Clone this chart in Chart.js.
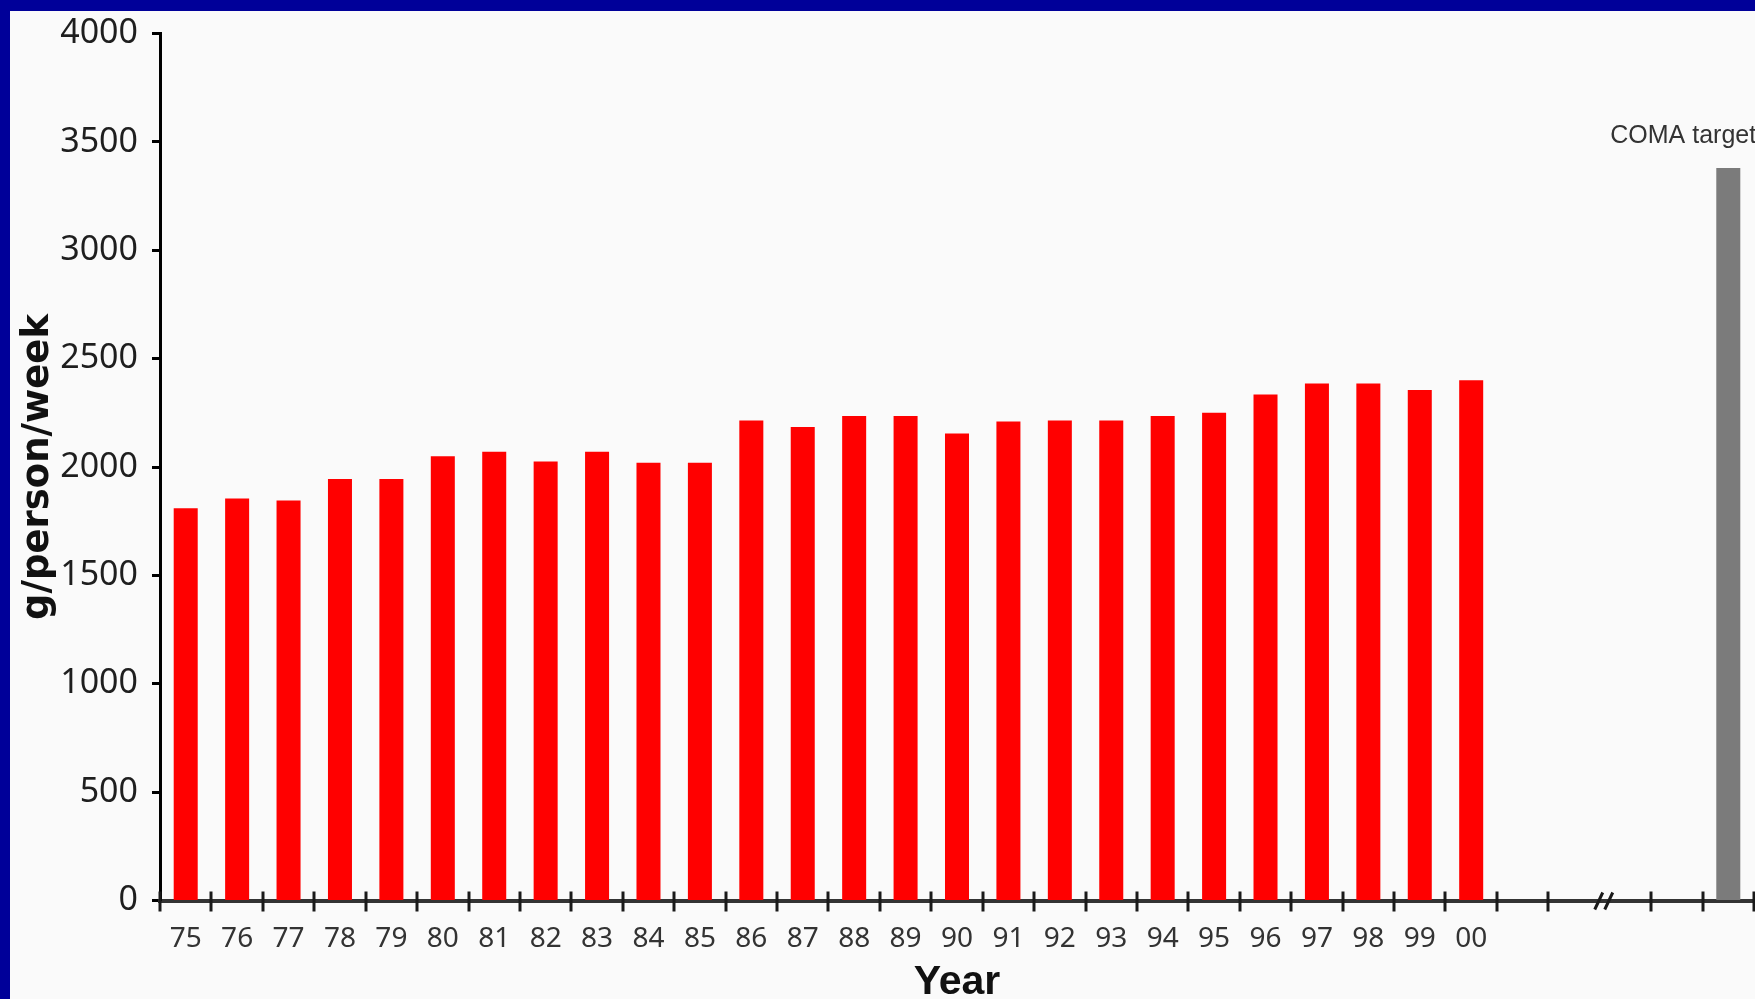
<!DOCTYPE html>
<html>
<head>
<meta charset="utf-8">
<title>Fruit and vegetable consumption</title>
<script src="https://cdn.jsdelivr.net/npm/chart.js@4.4.1/dist/chart.umd.min.js"></script>
<style>
  html, body { margin: 0; padding: 0; background: #000099; overflow: hidden; }
  #frame {
    position: absolute; left: 0; top: 0;
    width: 1745px; height: 988px;
    border-left: 10px solid #000099;
    border-top: 11px solid #000099;
    background: #fafafa;
  }
  canvas { display: block; }
</style>
</head>
<body>
<div id="frame"><canvas id="chart" width="1745" height="988"></canvas></div>
<script>
// Year labels (two-digit) and consumption in g/person/week
const years = ['75','76','77','78','79','80','81','82','83','84','85','86','87',
               '88','89','90','91','92','93','94','95','96','97','98','99','00'];
const consumption = [1810, 1855, 1845, 1945, 1945, 2050, 2070, 2025, 2070, 2020, 2020, 2215, 2185,
                     2235, 2235, 2155, 2210, 2215, 2215, 2235, 2250, 2335, 2385, 2385, 2355, 2400];
// Empty slots between the survey years and the target bar (axis break sits among them)
const gapSlots = ['', '', '', ''];
const targetSlot = [''];
const targetText = 'COMA target';
const comaTarget = 3380;
// y-axis ticks
const yMin = 0, yMax = 4000, yStep = 500;
// slot boundary (between categories) where the axis break is drawn
const breakAfterIndex = 27;

const labels = years.concat(gapSlots, targetSlot);
const redData = consumption.concat(gapSlots.map(() => null), [null]);
const greyData = years.map(() => null).concat(gapSlots.map(() => null), [comaTarget]);

// Tick marks crossing the x axis at category boundaries, plus the "//" break
const axisDecor = {
  id: 'axisDecor',
  afterDraw(chart) {
    const x = chart.scales.x;
    const ctx = chart.ctx;
    const y0 = chart.chartArea.bottom;
    ctx.save();
    ctx.strokeStyle = '#1a1a1a';
    ctx.lineWidth = 3;
    for (let i = 0; i <= labels.length; i++) {
      const b = i - 0.5;
      if (b === breakAfterIndex + 0.5) continue;
      const px = Math.round(x.getPixelForValue(b));
      ctx.beginPath();
      ctx.moveTo(px, y0 - 9);
      ctx.lineTo(px, y0 + 11);
      ctx.stroke();
    }
    const cx = x.getPixelForValue(breakAfterIndex + 0.5) + 5;
    ctx.lineWidth = 3;
    ctx.beginPath();
    ctx.moveTo(cx - 10, y0 + 9); ctx.lineTo(cx - 2, y0 - 8);
    ctx.moveTo(cx, y0 + 9); ctx.lineTo(cx + 8, y0 - 8);
    ctx.stroke();
    ctx.restore();
  }
};

// Caption above the target bar
const targetCaption = {
  id: 'targetCaption',
  afterDatasetsDraw(chart) {
    const meta = chart.getDatasetMeta(1);
    const bar = meta.data[labels.length - 1];
    if (!bar) return;
    const ctx = chart.ctx;
    ctx.save();
    ctx.font = '25px "Liberation Sans"';
    ctx.fillStyle = '#333';
    ctx.textAlign = 'left';
    ctx.textBaseline = 'alphabetic';
    ctx.fillText(targetText, bar.x - 118, bar.y - 25);
    ctx.restore();
  }
};

new Chart(document.getElementById('chart'), {
  type: 'bar',
  data: {
    labels: labels,
    datasets: [
      { data: redData, backgroundColor: '#ff0000', grouped: false,
        barPercentage: 0.467, categoryPercentage: 1 },
      { data: greyData, backgroundColor: '#7b7b7b', grouped: false,
        barPercentage: 0.467, categoryPercentage: 1 }
    ]
  },
  options: {
    responsive: false,
    animation: false,
    devicePixelRatio: 1,
    layout: { padding: { top: 22.5, right: 1, left: 0, bottom: 0 } },
    plugins: { legend: { display: false }, tooltip: { enabled: false } },
    scales: {
      x: {
        afterFit(scale) { scale.height = 98.5; },
        grid: { display: true, drawOnChartArea: false, drawTicks: false },
        border: { display: true, color: '#333', width: 4 },
        ticks: {
          autoSkip: false, maxRotation: 0, padding: 22,
          color: '#333', font: { family: '"Noto Sans"', size: 28 }
        },
        title: {
          display: true, text: 'Year', color: '#111',
          font: { family: '"Liberation Sans"', size: 41, weight: 'bold', lineHeight: 0.78 },
          padding: { top: 0, bottom: 0 }
        }
      },
      y: {
        min: yMin, max: yMax,
        afterFit(scale) { scale.width = 150; },
        grid: { display: true, drawOnChartArea: false, drawTicks: true,
                tickLength: 8, tickWidth: 3, tickColor: '#000' },
        border: { display: true, color: '#000', width: 3 },
        ticks: {
          stepSize: yStep, padding: 14,
          callback: (v) => String(v),
          color: '#1e1e1e', font: { family: '"Noto Sans"', size: 34, lineHeight: 0.5 }
        },
        title: {
          display: true, text: 'g/person/week', color: '#111',
          font: { family: '"DejaVu Sans"', size: 37, weight: 'bold' },
          padding: { top: 6, bottom: 0 }
        }
      }
    }
  },
  plugins: [axisDecor, targetCaption]
});
</script>
</body>
</html>
